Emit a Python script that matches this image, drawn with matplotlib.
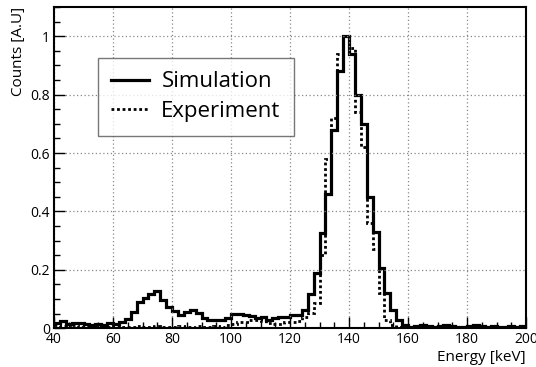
import matplotlib
matplotlib.use("Agg")
import matplotlib.pyplot as plt
import numpy as np
from matplotlib.ticker import MultipleLocator

plt.rcParams['font.family'] = ['Open Sans', 'DejaVu Sans']

# histogram bin edges (keV), 2 keV wide
edges = np.arange(40, 202, 2)

# normalised counts, simulation (solid)
simulation = [
    0.019, 0.026, 0.015, 0.019, 0.017, 0.015, 0.011, 0.014, 0.011, 0.017,
    0.015, 0.023, 0.031, 0.055, 0.090, 0.105, 0.118, 0.126, 0.097, 0.072,
    0.060, 0.047, 0.055, 0.062, 0.051, 0.034, 0.028, 0.028, 0.028, 0.034,
    0.050, 0.048, 0.045, 0.042, 0.036, 0.038, 0.030, 0.034, 0.038, 0.038,
    0.045, 0.045, 0.063, 0.116, 0.189, 0.326, 0.460, 0.680, 0.880, 1.000,
    0.940, 0.800, 0.700, 0.450, 0.330, 0.206, 0.120, 0.063, 0.028, 0.012,
    0.006, 0.008, 0.012, 0.008, 0.006, 0.007, 0.010, 0.008, 0.006, 0.005,
    0.007, 0.010, 0.008, 0.006, 0.007, 0.005, 0.006, 0.008, 0.006, 0.007,
]

# normalised counts, experiment (dotted)
experiment = [
    0.012, 0.008, 0.006, 0.010, 0.006, 0.005, 0.008, 0.004, 0.006, 0.005,
    0.007, 0.004, 0.006, 0.005, 0.008, 0.006, 0.005, 0.007, 0.004, 0.006,
    0.005, 0.008, 0.006, 0.005, 0.007, 0.004, 0.006, 0.008, 0.006, 0.010,
    0.015, 0.020, 0.022, 0.028, 0.030, 0.025, 0.018, 0.016, 0.016, 0.020,
    0.022, 0.025, 0.040, 0.051, 0.086, 0.250, 0.580, 0.720, 0.940, 1.000,
    0.960, 0.740, 0.620, 0.360, 0.270, 0.120, 0.030, 0.010, 0.005, 0.004,
    0.003, 0.005, 0.004, 0.003, 0.006, 0.004, 0.003, 0.005, 0.004, 0.003,
    0.004, 0.006, 0.003, 0.004, 0.005, 0.003, 0.004, 0.003, 0.005, 0.004,
]

fig = plt.figure(figsize=(5.36, 3.67), dpi=100)
ax = fig.add_axes([54 / 536, 38.7 / 367, 472 / 536, 321.3 / 367])

ax.stairs(simulation, edges, color='black', linewidth=2.3, label='Simulation',
          baseline=None)
ax.stairs(experiment, edges, color='black', linewidth=2.0, linestyle=(0, (1, 1)),
          label='Experiment', baseline=None)

ax.set_xlim(40, 200)
ax.set_ylim(0, 1.1)

ax.xaxis.set_major_locator(MultipleLocator(20))
ax.xaxis.set_minor_locator(MultipleLocator(5))
ax.yaxis.set_major_locator(MultipleLocator(0.2))
ax.yaxis.set_minor_locator(MultipleLocator(0.05))
ax.set_yticks([0, 0.2, 0.4, 0.6, 0.8, 1.0])
ax.set_yticklabels(['0', '0.2', '0.4', '0.6', '0.8', '1'])

ax.tick_params(which='both', direction='in', top=False, right=False,
               labelsize=10, width=1.0)
ax.tick_params(which='major', length=8, pad=3)
ax.tick_params(which='minor', length=4)

ax.grid(True, which='major', linestyle=(0, (1, 2)), color='#888888', linewidth=0.9)
for s in ax.spines.values():
    s.set_linewidth(1.5)

ax.set_xlabel('Energy [keV]', loc='right', fontsize=11, labelpad=2)
ax.set_ylabel('Counts [A.U]', loc='top', fontsize=11, labelpad=3)

leg = ax.legend(loc='upper left', bbox_to_anchor=(44 / 472, 1 - 51 / 321.3),
                borderaxespad=0, fontsize=16, frameon=True, fancybox=False,
                handlelength=1.7, borderpad=0.6, labelspacing=0.4,
                handletextpad=0.55)
leg.get_frame().set_edgecolor('#555555')
leg.get_frame().set_linewidth(1.0)

fig.savefig('out.png', dpi=100)
